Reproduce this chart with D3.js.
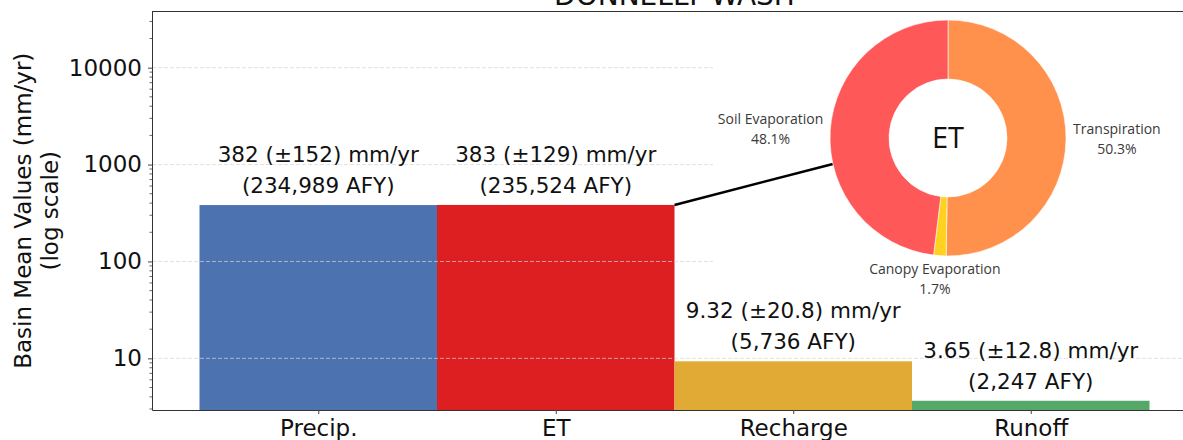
<!DOCTYPE html>
<html>
<head>
<meta charset="utf-8">
<script src="https://cdn.jsdelivr.net/npm/d3@7"></script>
<style>
	body { margin: 0; background: #fff; }
	svg { display: block; font-family: 'DejaVu Sans', sans-serif; }
</style>
</head>
<body>
<div id="chart"></div>
<script>
	// bar data
	var categories = ['Precip.', 'ET', 'Recharge', 'Runoff'];
	var meanValues = [382, 383, 9.32, 3.65];
	var stdValues = [152, 129, 20.8, 12.8];
	var afyValues = [234989, 235524, 5736, 2247];

	// ET breakdown (donut)
	var etParts = ['Transpiration', 'Canopy Evaporation', 'Soil Evaporation'];
	var etShares = [50.3, 1.7, 48.1];

	var yTickValues = [10, 100, 1000, 10000];
	var chartTitle = 'DONNELLY WASH';

	var width = 1183,
		height = 440;
	var plot = {left: 152, right: 1197, top: 11.5, bottom: 410};

	var svg = d3.select('#chart').append('svg')
		.attr('width', width)
		.attr('height', height);

	var x = d3.scaleLinear()
		.domain([-0.7, categories.length - 0.3])
		.range([plot.left, plot.right]);

	var y = d3.scaleLog()
		.domain([2.93, 38000])
		.range([plot.bottom, plot.top]);

	var barColor = d3.scaleOrdinal()
		.domain(categories)
		.range(['#4c72b0', '#dd1f22', '#e1aa35', '#55a868']);

	var pieColor = d3.scaleOrdinal()
		.domain(etParts)
		.range(['#ff914d', '#ffd21f', '#ff5858']);

	// bars
	svg.selectAll('rect.bar')
		.data(categories)
		.enter().append('rect')
		.attr('class', 'bar')
		.attr('x', function(d, i){ return x(i - 0.5); })
		.attr('width', function(d, i){ return x(i + 0.5) - x(i - 0.5); })
		.attr('y', function(d, i){ return y(meanValues[i]); })
		.attr('height', function(d, i){ return plot.bottom - y(meanValues[i]); })
		.attr('fill', function(d){ return barColor(d); });

	// grid (drawn over bars, faint)
	svg.selectAll('line.grid')
		.data(yTickValues)
		.enter().append('line')
		.attr('class', 'grid')
		.attr('x1', plot.left)
		.attr('x2', plot.right)
		.attr('y1', function(d){ return y(d); })
		.attr('y2', function(d){ return y(d); })
		.attr('stroke', '#d4d4d4')
		.attr('stroke-opacity', 0.7)
		.attr('stroke-dasharray', '4,2');

	// inset background for the donut
	svg.append('rect')
		.attr('x', 713)
		.attr('y', 12.5)
		.attr('width', 490)
		.attr('height', 288)
		.attr('fill', '#fff');

	// axes
	var yAxis = d3.axisLeft(y)
		.tickValues(yTickValues)
		.tickFormat(d3.format('d'))
		.tickSizeInner(4)
		.tickSizeOuter(0)
		.tickPadding(6);

	var gy = svg.append('g')
		.attr('transform', 'translate(' + plot.left + ',0)')
		.call(yAxis)
		.attr('font-family', null);
	gy.selectAll('text').style('font-size', '23px').attr('fill', '#111');
	gy.select('.domain').attr('stroke', '#333');
	gy.selectAll('.tick line').attr('stroke', '#444');

	var minorTicks = y.ticks().filter(function(d){ return yTickValues.indexOf(d) < 0; });
	gy.selectAll('line.minor')
		.data(minorTicks)
		.enter().append('line')
		.attr('class', 'minor')
		.attr('x1', -2.5)
		.attr('x2', 0)
		.attr('y1', function(d){ return y(d); })
		.attr('y2', function(d){ return y(d); })
		.attr('stroke', '#666');

	var xAxis = d3.axisBottom(x)
		.tickValues(d3.range(categories.length))
		.tickFormat(function(i){ return categories[i]; })
		.tickSizeInner(4)
		.tickSizeOuter(0)
		.tickPadding(6);

	var gx = svg.append('g')
		.attr('transform', 'translate(0,' + plot.bottom + ')')
		.call(xAxis)
		.attr('font-family', null);
	gx.selectAll('text').style('font-size', '23px').attr('fill', '#111');
	gx.select('.domain').attr('stroke', '#333');
	gx.selectAll('.tick line').attr('stroke', '#444');

	// top spine
	svg.append('line')
		.attr('x1', plot.left)
		.attr('x2', plot.right)
		.attr('y1', plot.top)
		.attr('y2', plot.top)
		.attr('stroke', '#333');

	// y label
	var yLabelLines = ['Basin Mean Values (mm/yr)', '(log scale)'];
	svg.selectAll('text.ylabel')
		.data(yLabelLines)
		.enter().append('text')
		.attr('class', 'ylabel')
		.attr('transform', function(d, i){
			return 'translate(' + (23 + i * 27) + ',' + ((plot.top + plot.bottom) / 2) + ') rotate(-90)';
		})
		.attr('dy', '0.35em')
		.attr('text-anchor', 'middle')
		.style('font-size', '23px')
		.attr('fill', '#111')
		.text(function(d){ return d; });

	// title (cut off at top like the reference)
	svg.append('text')
		.attr('x', (plot.left + plot.right) / 2)
		.attr('y', 5)
		.attr('text-anchor', 'middle')
		.style('font-size', '28px')
		.attr('fill', '#111')
		.text(chartTitle);

	// value labels above bars
	var fmtVal = d3.format('.3~g'),
		fmtAfy = d3.format(',');
	categories.forEach(function(c, i){
		var top = y(meanValues[i]);
		var g = svg.append('g').attr('class', 'barlabel');
		g.append('text')
			.attr('x', x(i))
			.attr('y', top - 43)
			.text(fmtVal(meanValues[i]) + ' (\u00b1' + fmtVal(stdValues[i]) + ') mm/yr');
		g.append('text')
			.attr('x', x(i))
			.attr('y', top - 12)
			.text('(' + fmtAfy(afyValues[i]) + ' AFY)');
		g.selectAll('text')
			.attr('text-anchor', 'middle')
			.style('font-size', '21.5px')
			.attr('fill', '#111');
	});

	// donut
	var pieCenter = [948, 138],
		outerR = 118,
		innerR = 59;

	// connector from ET bar corner to the donut edge
	var connAngle = 257.3 * Math.PI / 180;
	svg.append('line')
		.attr('x1', x(1.5))
		.attr('y1', y(meanValues[1]))
		.attr('x2', pieCenter[0] + outerR * Math.sin(connAngle))
		.attr('y2', pieCenter[1] - outerR * Math.cos(connAngle))
		.attr('stroke', '#000')
		.attr('stroke-width', 2.5);

	var pie = d3.pie().sort(null).value(function(d){ return d; });
	var arc = d3.arc().innerRadius(innerR).outerRadius(outerR);
	var arcs = pie(etShares);

	var gPie = svg.append('g')
		.attr('transform', 'translate(' + pieCenter[0] + ',' + pieCenter[1] + ')');

	gPie.selectAll('path')
		.data(arcs)
		.enter().append('path')
		.attr('d', arc)
		.attr('fill', function(d, i){ return pieColor(etParts[i]); })
		.attr('stroke', '#fff')
		.attr('stroke-width', 0.6);

	gPie.append('text')
		.attr('text-anchor', 'middle')
		.attr('dy', '0.36em')
		.style('font-family', "'Open Sans', sans-serif")
		.style('font-size', '29px')
		.attr('fill', '#111')
		.text('ET');

	arcs.forEach(function(a, i){
		var mid = (a.startAngle + a.endAngle) / 2,
			ux = Math.sin(mid),
			uy = -Math.cos(mid);
		var g = gPie.append('g').attr('class', 'pielabel');
		g.append('text').attr('y', -10).text(etParts[i]);
		g.append('text').attr('y', 10).text(fmtVal(etShares[i]) + '%');
		g.selectAll('text')
			.attr('text-anchor', 'middle')
			.attr('dy', '0.35em')
			.style('font-family', "'Open Sans', sans-serif")
			.style('font-size', '14px')
			.attr('fill', '#3a3a3a');
		var hw = g.node().getBBox().width / 2;
		var lx = outerR * 1.06 * ux + hw * ux,
			ly = outerR * 1.06 * uy + 16 * uy;
		g.attr('transform', 'translate(' + lx + ',' + ly + ')');
	});
</script>
</body>
</html>
